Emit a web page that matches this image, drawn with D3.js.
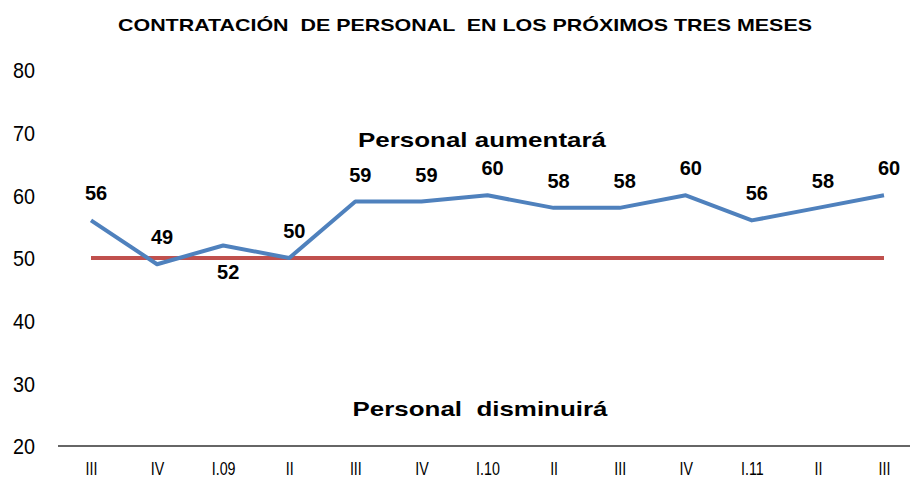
<!DOCTYPE html>
<html>
<head>
<meta charset="utf-8">
<script src="https://cdn.jsdelivr.net/npm/d3@7.9.0/dist/d3.min.js"></script>
<style>
  body { margin: 0; background: #fff; }
  svg { font-family: "Liberation Sans", Arial, sans-serif; }
</style>
</head>
<body>
<svg id="chart" width="910" height="485"></svg>
<script>
// data
const quarters = ['III', 'IV', 'I.09', 'II', 'III', 'IV', 'I.10', 'II', 'III', 'IV', 'I.11', 'II', 'III'];
const aumentara = [56, 49, 52, 50, 59, 59, 60, 58, 58, 60, 56, 58, 60];
const baseline = [50, 50, 50, 50, 50, 50, 50, 50, 50, 50, 50, 50, 50];
const labelSide = ['up', 'up', 'down', 'up', 'up', 'up', 'up', 'up', 'up', 'up', 'up', 'up', 'up'];
const yTicks = [20, 30, 40, 50, 60, 70, 80];

const svg = d3.select('#chart');

// x uses index so repeated quarter names stay distinct
const x = d3.scalePoint()
  .domain(d3.range(quarters.length))
  .range([91, 884]);

const y = d3.scaleLinear()
  .domain([20, 80])
  .range([446, 70]);

// title
svg.append('text')
  .attr('x', 465)
  .attr('y', 31)
  .attr('text-anchor', 'middle')
  .attr('font-size', 17)
  .attr('font-weight', 'bold')
  .attr('textLength', 694)
  .attr('lengthAdjust', 'spacingAndGlyphs')
  .style('white-space', 'pre')
  .text('CONTRATACIÓN  DE PERSONAL  EN LOS PRÓXIMOS TRES MESES');

// y axis: labels only
const yAxis = d3.axisLeft(y).tickValues(yTicks).tickSize(0).tickPadding(0);
const gy = svg.append('g')
  .attr('transform', 'translate(35,0)')
  .call(yAxis);
gy.select('.domain').remove();
gy.selectAll('text')
  .attr('font-size', 22)
  .attr('fill', '#000')
  .attr('transform', 'scale(0.9,1)')
  .attr('dy', '0.35em');

// x axis line + labels
const xAxis = d3.axisBottom(x).tickSize(0).tickPadding(16).tickFormat((i) => quarters[i]);
const gx = svg.append('g')
  .attr('transform', `translate(0,${y(20)})`)
  .call(xAxis);
gx.select('.domain').remove();
gx.append('line')
  .attr('x1', 58).attr('x2', 910)
  .attr('stroke', '#333').attr('stroke-width', 1.5);
gx.selectAll('.tick text')
  .attr('font-size', 19)
  .attr('fill', '#000')
  .attr('transform', 'scale(0.75,1)');

const line = d3.line()
  .x((d, i) => x(i))
  .y((d) => y(d));

// reference line at 50
svg.append('path')
  .datum(baseline)
  .attr('d', line)
  .attr('fill', 'none')
  .attr('stroke', '#c0504d')
  .attr('stroke-width', 4);

// main series
svg.append('path')
  .datum(aumentara)
  .attr('d', line)
  .attr('fill', 'none')
  .attr('stroke', '#4f81bd')
  .attr('stroke-width', 4)
  .attr('stroke-linejoin', 'round');

// value labels
svg.append('g')
  .selectAll('text')
  .data(aumentara)
  .join('text')
  .attr('x', (d, i) => x(i) + 5)
  .attr('y', (d, i) => labelSide[i] === 'down' ? y(d) + 34 : y(d) - 20)
  .attr('text-anchor', 'middle')
  .attr('font-size', 20)
  .attr('font-weight', 'bold')
  .text((d) => d);

// annotations
svg.append('text')
  .attr('x', 482).attr('y', 147)
  .attr('text-anchor', 'middle')
  .attr('font-size', 21).attr('font-weight', 'bold')
  .attr('textLength', 248)
  .attr('lengthAdjust', 'spacingAndGlyphs')
  .text('Personal aumentará');

svg.append('text')
  .attr('x', 480).attr('y', 416)
  .attr('text-anchor', 'middle')
  .attr('font-size', 21).attr('font-weight', 'bold')
  .attr('textLength', 255)
  .attr('lengthAdjust', 'spacingAndGlyphs')
  .style('white-space', 'pre')
  .text('Personal  disminuirá');
</script>
</body>
</html>
